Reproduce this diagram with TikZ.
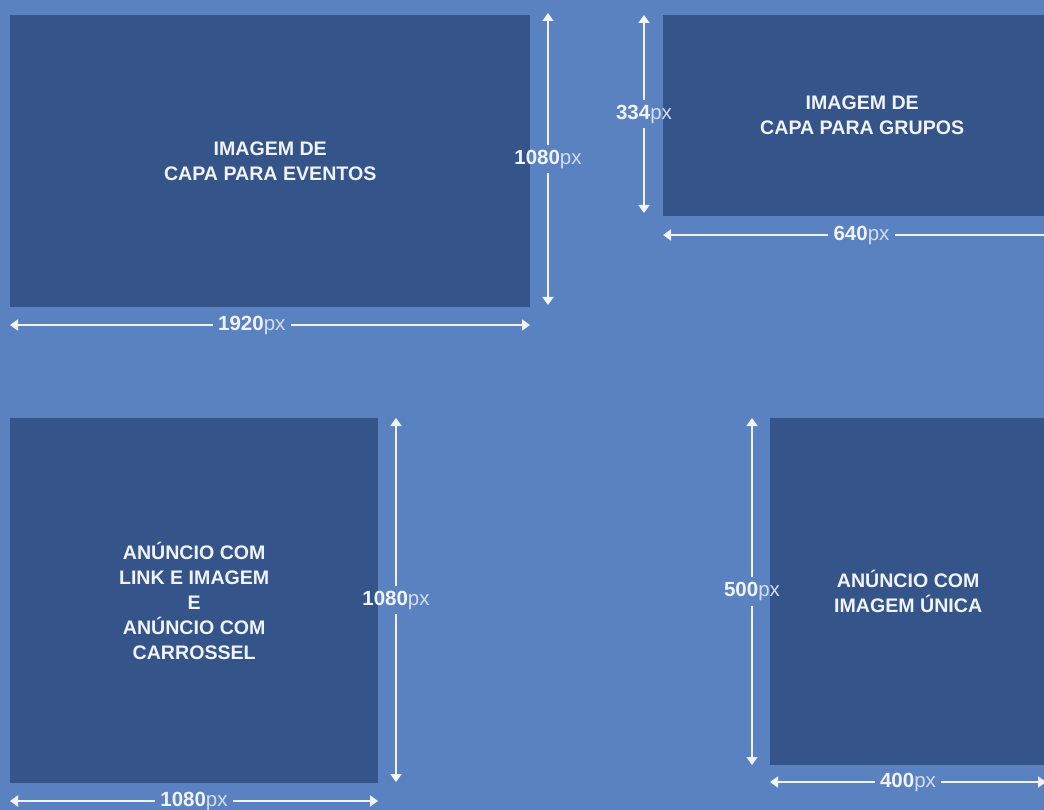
\documentclass[tikz,border=0pt]{standalone}
\usepackage{fontspec}
\setmainfont{Liberation Sans}
\usetikzlibrary{arrows.meta}

% Define banner colors
\definecolor{bgblue}{RGB}{91,130,192}
\definecolor{boxblue}{RGB}{53,84,138}
\definecolor{linewhite}{RGB}{240,244,250}

\newcommand{\pxsize}[1]{\textbf{#1}{\color{linewhite!80!bgblue}px}}

\begin{document}
\begin{tikzpicture}[x=1pt,y=-1pt,
every node/.style={text=linewhite},
banner/.style={fill=boxblue, anchor=north west, align=center, font=\fontsize{19.6}{25}\selectfont\bfseries},
dim/.style={draw=linewhite, line width=1.8pt, -{Triangle[width=11pt,length=8pt]}},
dimlabel/.style={inner sep=5pt, font=\fontsize{20.5}{22}\selectfont}]

\fill[bgblue] (0,0) rectangle (1044,810);
\useasboundingbox (0,0) rectangle (1044,810);
\clip (0,0) rectangle (1044,810); %boxes on the right run off the edge

% Banners
\node[banner, minimum width=520pt, minimum height=292pt] (eventos) at (10,15) {IMAGEM DE\\CAPA PARA EVENTOS};
\node[banner, minimum width=398pt, minimum height=201pt] (grupos) at (663,15) {IMAGEM DE\\CAPA PARA GRUPOS};
\node[banner, minimum width=368pt, minimum height=365pt] (carrossel) at (10,418) {ANÚNCIO COM\\LINK E IMAGEM\\E\\ANÚNCIO COM\\CARROSSEL};
\node[banner, minimum width=276pt, minimum height=347pt] (unica) at (770,418) {ANÚNCIO COM\\IMAGEM ÚNICA};

% Measure ends
\coordinate (ev1) at (10,325);   \coordinate (ev2) at (530,325);
\coordinate (ev3) at (548,13);   \coordinate (ev4) at (548,305);
\coordinate (gr1) at (663,235);  \coordinate (gr2) at (1060,235);
\coordinate (gr3) at (644,15);   \coordinate (gr4) at (644,213);
\coordinate (ca1) at (10,801);   \coordinate (ca2) at (378,801);
\coordinate (ca3) at (396,418);  \coordinate (ca4) at (396,782);
\coordinate (un1) at (770,782);  \coordinate (un2) at (1046,782);
\coordinate (un3) at (752,418);  \coordinate (un4) at (752,765);

% Sizes
\path (ev1) -- (ev2) node[pos=.465, dimlabel] (ev-w) {\pxsize{1920}};
\path (ev3) -- (ev4) node[midway, dimlabel] (ev-h) {\pxsize{1080}};
\path (gr1) -- (gr2) node[midway, dimlabel] (gr-w) {\pxsize{640}};
\path (gr3) -- (gr4) node[midway, dimlabel] (gr-h) {\pxsize{334}};
\path (ca1) -- (ca2) node[midway, dimlabel] (ca-w) {\pxsize{1080}};
\path (ca3) -- (ca4) node[midway, dimlabel] (ca-h) {\pxsize{1080}};
\path (un1) -- (un2) node[midway, dimlabel] (un-w) {\pxsize{400}};
\path (un3) -- (un4) node[midway, dimlabel] (un-h) {\pxsize{500}};

% Dimension arrows
\foreach \lbl/\a/\b in {ev-w/ev1/ev2, ev-h/ev3/ev4, gr-w/gr1/gr2, gr-h/gr3/gr4,
                        ca-w/ca1/ca2, ca-h/ca3/ca4, un-w/un1/un2, un-h/un3/un4}{
    \draw[dim] (\lbl) -- (\a);
    \draw[dim] (\lbl) -- (\b);
}
\end{tikzpicture}
\end{document}
